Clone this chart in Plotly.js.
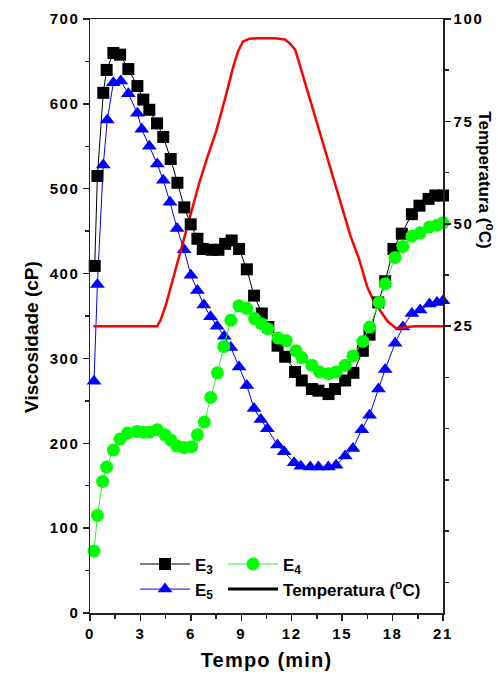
<!DOCTYPE html>
<html><head><meta charset="utf-8">
<script src="https://cdn.plot.ly/plotly-3.0.1.min.js"></script>
<style>
body{margin:0;background:#fff}
.xtick text, .ytick text, .y2tick text{letter-spacing:1.6px}
.xtitle{letter-spacing:1.2px}
</style>
</head><body><div id="chart" style="width:498px;height:677px"></div>
<script>
// Tempo (min) and Viscosidade (cP) for each sample
const tE3 = [0.28,0.44,0.79,0.99,1.39,1.79,2.28,2.82,3.17,3.53,3.99,4.36,4.8,5.2,5.61,5.99,6.39,6.71,7.24,7.64,8.04,8.43,8.87,9.33,9.76,10.22,10.61,11.16,11.61,12.2,12.6,13.2,13.59,14.19,14.58,15.18,15.67,16.23,16.63,17.15,17.56,18.05,18.55,19.15,19.6,20.14,20.54,21.0];
const vE3 = [409,515,613,640,660,658,641,621,605,593,577,561,535,507,478,458,441,429,428,428,435,439,429,405,374,353,337,315,302,284,274,264,262,258,264,274,283,309,328,366,391,429,447,470,480,488,492,492];

const tE4 = [0.24,0.44,0.75,0.99,1.39,1.79,2.24,2.78,3.17,3.53,4.0,4.46,4.8,5.16,5.6,6.05,6.39,6.8,7.18,7.58,7.96,8.38,8.86,9.33,9.79,10.19,10.58,11.19,11.67,12.26,12.6,13.2,13.65,14.19,14.64,15.18,15.64,16.23,16.63,17.2,17.56,18.15,18.61,19.15,19.64,20.2,20.64,21.0];
const vE4 = [73,115,155,172,192,205,212,214,213,213,216,210,204,197,195,196,210,225,254,283,314,345,362,359,347,341,335,324,321,309,301,292,284,282,284,292,303,320,337,366,388,419,432,444,448,455,457,460];

const tE5 = [0.24,0.44,0.79,1.03,1.39,1.83,2.28,2.82,3.08,3.53,4.0,4.36,4.76,5.18,5.6,6.0,6.39,6.77,7.17,7.56,7.99,8.38,8.87,9.33,9.76,10.16,10.55,11.15,11.55,12.14,12.54,13.1,13.59,14.18,14.64,15.18,15.64,16.17,16.63,17.16,17.56,18.15,18.61,19.15,19.64,20.2,20.64,21.0];
const vE5 = [273,387,528,581,625,627,612,589,570,550,529,510,484,453,428,398,380,363,349,338,326,313,290,268,241,228,217,198,190,177,173,172,172,172,174,185,194,216,233,264,287,318,337,353,357,364,366,368];

// Temperatura (°C)
const tTemp = [0.2,1,2,3,4.0,4.2,4.5,5,5.5,6,6.5,7,7.5,8,8.5,8.8,9.1,9.5,10,11,11.6,11.9,12.2,12.5,13,13.5,14,14.5,15,15.5,16,16.5,16.9,17.3,17.7,18.2,18.8,19.3,20,21];
const vTemp = [25,25,25,25,25,26.5,30,37.5,45,52,60,66.5,72.5,80,88,92,94.5,95.2,95.3,95.3,95,94,92.5,88.5,81.5,74.5,67.5,60.5,53.5,47,41.5,34.5,31,28.5,26.2,24.5,24.8,25,25,25];

const names = ['E<sub>3</sub>','E<sub>4</sub>','E<sub>5</sub>','Temperatura (<sup>o</sup>C)'];
const xTicks = [0,3,6,9,12,15,18,21];
const tempTicks = [25,50,75,100];

const FONT = 'Liberation Sans, Arial, sans-serif';
const AX = '#222';

const traces = [
  {x:tE5, y:vE5, name:names[2], type:'scatter', mode:'lines+markers', yaxis:'y',
   line:{color:'#0000ff', width:1}, marker:{symbol:'triangle-up', size:13, color:'#0000ff'},
   legend:'legend', legendrank:2, cliponaxis:false},
  {x:tTemp, y:vTemp, name:names[3], type:'scatter', mode:'lines', yaxis:'y2',
   line:{color:'#ff0000', width:2.5}, showlegend:false, cliponaxis:false},
  {x:tE3, y:vE3, name:names[0], type:'scatter', mode:'lines+markers', yaxis:'y3',
   line:{color:'#000000', width:1}, marker:{symbol:'square', size:12, color:'#000000'},
   legend:'legend', legendrank:1, cliponaxis:false},
  {x:tE4, y:vE4, name:names[1], type:'scatter', mode:'lines+markers', yaxis:'y3',
   line:{color:'#33ee33', width:1}, marker:{symbol:'circle', size:13, color:'#00ff00'},
   legend:'legend2', legendrank:1, cliponaxis:false},
  {x:[null], y:[null], name:names[3], type:'scatter', mode:'lines', yaxis:'y2',
   line:{color:'#000000', width:3}, legend:'legend2', legendrank:2}
];

const tickFont = {family:FONT, size:15, color:'#000', weight:'bold'};
const legFont = {family:FONT, size:17, color:'#000', weight:'bold'};

const layout = {
  width:498, height:677,
  margin:{l:90, r:55, t:19, b:64},
  paper_bgcolor:'#fff', plot_bgcolor:'#fff',
  showlegend:true,
  xaxis:{range:[0,21], tickvals:xTicks, ticks:'outside', ticklen:6, tickwidth:1.5, tickcolor:AX,
         minor:{dtick:1.5, tick0:0, ticks:'outside', ticklen:4, tickwidth:1.5, tickcolor:AX},
         showline:true, linecolor:AX, linewidth:1.5, mirror:true, showgrid:false, zeroline:false,
         tickfont:tickFont,
         title:{text:'Tempo (min)', font:{family:FONT, size:20, color:'#000', weight:'bold'}, standoff:12}},
  yaxis:{range:[0,700], dtick:100, tick0:0, ticks:'outside', ticklen:6, tickwidth:1.5, tickcolor:AX,
         minor:{dtick:50, tick0:0, ticks:'outside', ticklen:4, tickwidth:1.5, tickcolor:AX},
         showline:true, linecolor:AX, linewidth:1.5, showgrid:false, zeroline:false, tickfont:tickFont},
  yaxis2:{overlaying:'y', side:'right', range:[-45,100], tickmode:'array', tickvals:tempTicks,
         ticks:'outside', ticklen:6, tickwidth:1.5, tickcolor:AX,
         minor:{tickmode:'array', tickvals:[-37.5,-25,-12.5,0,12.5,37.5,62.5,87.5], ticks:'outside', ticklen:4, tickwidth:1.5, tickcolor:AX},
         showline:true, linecolor:AX, linewidth:1.5, showgrid:false, zeroline:false, tickfont:tickFont},
  yaxis3:{overlaying:'y', range:[0,700], visible:false},
  legend:{x:0.1275, y:0.112, xanchor:'left', yanchor:'top', bgcolor:'rgba(0,0,0,0)', itemwidth:50,
          font:legFont, traceorder:'normal'},
  legend2:{x:0.3768, y:0.112, xanchor:'left', yanchor:'top', bgcolor:'rgba(0,0,0,0)', itemwidth:50,
          font:legFont, traceorder:'normal'},
  annotations:[
    {text:'Viscosidade (cP)', xref:'paper', yref:'paper', x:-0.164, y:0.465, xanchor:'center', yanchor:'middle',
     textangle:-90, showarrow:false, font:{family:FONT, size:19, color:'#000', weight:'bold'}},
    {text:'Temperatura (<sup>o</sup>C)', xref:'paper', yref:'paper', x:1.122, y:0.73, xanchor:'center', yanchor:'middle',
     textangle:90, showarrow:false, font:{family:FONT, size:17, color:'#000', weight:'bold'}}
  ]
};

Plotly.newPlot('chart', traces, layout, {displayModeBar:false, staticPlot:true});
</script></body></html>
